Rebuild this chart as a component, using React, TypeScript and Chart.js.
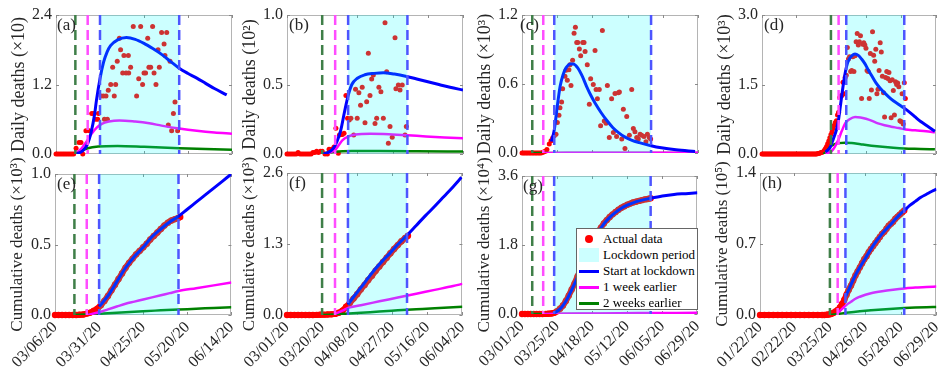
import React, { useEffect, useRef } from "react";
import { Chart, registerables } from "chart.js";

Chart.register(...registerables);

type Pt = [number, number];

const FONT = "'Liberation Serif', 'Times New Roman', serif";
const INK = "#262626";

// ---------- tick values / labels ----------
const ticksA = [0, 25, 50, 75, 100];
const labelsA = ["03/06/20", "03/31/20", "04/25/20", "05/20/20", "06/14/20"];
const ticksB = [0, 19, 38, 57, 76, 95];
const labelsB = ["03/01/20", "03/20/20", "04/08/20", "04/27/20", "05/16/20", "06/04/20"];
const ticksC = [0, 24, 48, 72, 96, 120];
const labelsC = ["03/01/20", "03/25/20", "04/18/20", "05/12/20", "06/05/20", "06/29/20"];
const ticksD = [0, 31, 63, 95, 127, 159];
const labelsD = ["01/22/20", "02/22/20", "03/25/20", "04/26/20", "05/28/20", "06/29/20"];

const yTicksA = [0, 1.2, 2.4];
const yTicksB = [0, 0.5, 1.0];
const yTicksC = [0, 0.6, 1.2];
const yTicksD = [0, 1.5, 3.0];
const yTicksE = [0, 0.5, 1.0];
const yTicksF = [0, 1.3, 2.6];
const yTicksG = [0, 1.8, 3.6];
const yTicksH = [0, 0.7, 1.4];

// [2 weeks earlier, 1 week earlier, lockdown start, lockdown end] (day index)
const lockA = [11, 18, 25, 70];
const lockB = [19, 26, 33, 65];
const lockC = [7, 14.5, 22, 88];
const lockD = [63, 70, 77, 130];

// ---------- panel (a): daily, x10 ----------
const dailyA: Pt[] = [[0,0],[1,0],[2,0],[3,0],[4,0],[5,0],[6,0],[7,0],[8,0],[9,0],[10,0],[11.4,0.1],[13.1,0.2],[14.2,0.2],[15.2,0],[17,0.4],[18.9,0.4],[20.3,0.7],[21.4,0.7],[22.5,0.6],[23.7,0.6],[24.1,0.7],[25.6,1.0],[26.9,1.0],[27.5,0.6],[28.4,1.0],[29.2,0.6],[29.7,1.1],[31.1,1.2],[32.2,1.5],[33.1,1.0],[33.9,1.2],[34.8,1.6],[36,2.0],[36.7,1.8],[37.9,1.4],[38.6,1.7],[39.8,1.4],[41.1,1.7],[41.3,1.4],[42.4,1.5],[43.9,2.2],[45.8,1.0],[47,1.3],[48.1,2.2],[49.2,1.2],[50,1.4],[50.9,1.4],[52.1,2.0],[52.8,1.5],[53.8,1.5],[54.9,2.2],[55.7,1.4],[56.8,1.2],[58,1.8],[58.7,1.5],[60,2.1],[61.4,1.9],[61.9,1.7],[62.9,2.1],[63.8,0.5],[64.8,1.6],[65.7,0.4],[66.7,0.7],[67.6,0.9],[69.1,0.4]];
const blueA: Pt[] = [[11,0],[14,0.03],[16,0.08],[18,0.18],[20,0.38],[22,0.7],[23,0.93],[25,1.3],[27,1.58],[29,1.76],[31,1.87],[35,1.97],[40,2.01],[45,1.98],[50,1.91],[55,1.82],[60,1.72],[65,1.6],[70,1.48],[75,1.39],[80,1.31],[85,1.22],[90,1.13],[97,1.02]];
const magentaA: Pt[] = [[11,0],[14,0.08],[17,0.2],[20,0.34],[23,0.45],[26,0.52],[30,0.56],[36,0.58],[45,0.56],[53,0.53],[60,0.49],[70,0.44],[80,0.4],[90,0.37],[100,0.35]];
const greenA: Pt[] = [[11,0],[14,0.05],[18,0.1],[24,0.13],[35,0.14],[50,0.125],[70,0.1],[85,0.085],[100,0.075]];

// ---------- panel (b): daily, 10^2 ----------
const dailyB: Pt[] = [[0,0],[1,0],[2,0],[3,0],[4,0],[5,0],[6,0.01],[7,0],[8,0],[9,0],[10,0],[11,0],[12,0],[13,0],[14,0.01],[15,0.01],[16,0.02],[17,0.01],[18,0.02],[19,0.02],[20.5,0],[21.8,0],[22.7,0.035],[24.1,0.035],[25.4,0.05],[26.4,0.185],[27.7,0.005],[28.3,0.137],[29.1,0.14],[29.9,0.14],[30.8,0.15],[31.8,0.42],[32.7,0.257],[33.6,0.245],[34.5,0.257],[36,0.137],[37,0.465],[37.9,0.257],[38.8,0.44],[39.7,0.35],[40.6,0.48],[42.1,0.225],[43,0.376],[43.9,0.724],[44.8,0.42],[45.7,0.54],[46.6,0.568],[47.5,0.22],[48.4,0.257],[49.6,0.48],[50.7,0.448],[52,0.257],[52.9,0.945],[53.8,0.592],[54.7,0.077],[55.6,0.197],[56.8,0.12],[58.3,0.837],[58.8,0.47],[60.1,0.496],[61,0.46],[62.2,0.496],[63.7,0.137],[64.4,0.197]];
const blueB: Pt[] = [[19,0],[22,0.01],[25,0.04],[27,0.09],[29,0.17],[31,0.3],[33,0.42],[35,0.5],[38,0.545],[42,0.57],[47,0.58],[52,0.585],[58,0.575],[64,0.56],[70,0.54],[76,0.52],[82,0.5],[88,0.48],[95,0.46]];
const magentaB: Pt[] = [[19,0],[23,0.01],[26,0.03],[28,0.065],[30,0.1],[33,0.125],[37,0.14],[45,0.145],[55,0.142],[65,0.135],[75,0.126],[85,0.119],[95,0.113]];
const greenB: Pt[] = [[19,0],[22,0.01],[26,0.017],[35,0.021],[50,0.021],[70,0.02],[95,0.018]];

// ---------- panel (c): daily, x10^3 ----------
const dailyC: Pt[] = [[0,0],[1,0],[2,0],[3,0],[4,0],[5,0],[6,0],[7,0],[8,0],[9,0],[10,0],[11,0],[12,0],[13,0],[14,0.005],[15,0.01],[16,0.015],[17,0.03],[18.6,0.078],[19.8,0.106],[20.9,0.13],[22,0.15],[23.2,0.164],[24.1,0.265],[25.2,0.328],[25.9,0.394],[27,0.443],[27.7,0.558],[29.3,0.668],[30,0.72],[30.9,0.633],[32,0.725],[32.7,0.768],[33.4,0.587],[34.5,0.806],[35.5,1.042],[36.4,1.094],[37.3,0.961],[38,0.961],[39.1,0.904],[40,0.846],[41.4,0.961],[42.3,0.961],[43,0.883],[44.5,0.768],[45.9,0.423],[46.8,0.645],[48.6,0.596],[49.8,0.892],[50.5,0.553],[51.4,0.472],[52.7,0.553],[53.6,0.236],[54.8,1.065],[56.1,0.279],[57.3,0.259],[58.2,0.587],[59.5,0.135],[61.1,0.472],[62.3,0.178],[63.4,0.518],[64.5,0.144],[65.7,0.524],[66.4,0.53],[68,0.121],[69.1,0.38],[70.2,0.04],[71.4,0.317],[73.2,0.155],[74.8,0.553],[75.9,0.213],[77,0.184],[78.2,0.135],[79.3,0.121],[80.5,0.164],[81.6,0.155],[83.2,0.144],[84.5,0.098],[85.5,0.164],[86.8,0.135],[87.7,0.121]];
const blueC: Pt[] = [[20,0.1],[22,0.2],[24,0.4],[26,0.58],[28,0.68],[30,0.74],[33,0.775],[35,0.775],[38,0.74],[41,0.67],[44,0.58],[47,0.5],[50,0.43],[54,0.35],[58,0.28],[62,0.22],[66,0.175],[70,0.14],[75,0.11],[80,0.09],[88,0.063],[95,0.045],[105,0.028],[118,0.014]];
const magentaC: Pt[] = [[14.5,0],[30,0.002],[60,0.003],[90,0.003],[120,0.003]];
const greenC: Pt[] = [[7,0],[40,0],[80,0],[120,0]];

// ---------- panel (d): daily, x10^3 ----------
const dailyD: Pt[] = [[0,0],[1,0],[2,0],[3,0],[4,0],[5,0],[6,0],[7,0],[8,0],[9,0],[10,0],[11,0],[12,0],[13,0],[14,0],[15,0],[16,0],[17,0],[18,0],[19,0],[20,0],[21,0],[22,0],[23,0],[24,0],[25,0],[26,0],[27,0],[28,0],[29,0],[30,0],[31,0],[32,0],[33,0],[34,0],[35,0],[36,0],[37,0],[38,0],[39,0],[40,0],[41,0],[42,0],[43,0],[44,0],[45,0],[46,0],[47,0],[48,0],[49,0],[50,0],[51,0.01],[52,0.01],[53,0.02],[54,0.03],[55,0.04],[56,0.05],[57,0.08],[58,0.12],[59,0.16],[60,0.22],[61,0.28],[62,0.35],[63,0.42],[64,0.48],[65,0.55],[66,0.62],[67,0.68],[68,0.72],[69,0.84],[70,0.9],[71,1.22],[72,1.25],[73,1.26],[74,1.55],[75,1.3],[76,1.65],[77,1.7],[78,2.3],[79,2.05],[80,2.1],[81,1.78],[82,1.8],[83,2.1],[84,1.78],[85,2.12],[86,2.42],[87,2.6],[88,2.35],[89,2.42],[90,2.55],[91,1.2],[92,2.37],[93,2.4],[94,2.35],[95,2.28],[96,1.8],[97,1.78],[98,1.2],[99,2.17],[100,1.38],[101,2.64],[102,2.13],[103,2.0],[104,2.26],[105,1.3],[106,1.4],[107,1.8],[108,2.4],[109,2.2],[110,1.68],[111,1.32],[112,0.8],[113,1.65],[114,1.78],[115,1.63],[116,1.76],[117,1.58],[118,0.78],[119,1.6],[120,1.37],[121,0.84],[122,1.56],[123,1.5],[124,1.53],[125,1.45],[126,0.72],[127,0.7],[128,1.3],[129,0.65],[130,1.54],[131,1.2]];
const blueD: Pt[] = [[58,0.05],[60,0.08],[62,0.13],[64,0.25],[66,0.38],[68,0.52],[70,0.75],[72,1.1],[74,1.45],[76,1.75],[78,1.95],[80,2.06],[82,2.12],[85,2.16],[88,2.13],[91,2.05],[94,1.95],[97,1.82],[100,1.7],[104,1.54],[108,1.42],[112,1.32],[116,1.23],[120,1.15],[125,1.07],[130,0.99],[135,0.9],[140,0.8],[145,0.7],[150,0.62],[155,0.54],[158,0.49]];
const magentaD: Pt[] = [[58,0.01],[62,0.04],[65,0.1],[68,0.22],[70,0.32],[73,0.5],[76,0.66],[80,0.75],[85,0.8],[90,0.79],[95,0.76],[100,0.72],[106,0.66],[112,0.62],[118,0.59],[125,0.56],[131,0.53],[140,0.51],[150,0.49],[158,0.47]];
const greenD: Pt[] = [[56,0],[59,0.05],[62,0.15],[66,0.21],[70,0.235],[76,0.245],[82,0.235],[90,0.21],[100,0.18],[110,0.155],[120,0.135],[130,0.12],[145,0.11],[158,0.1]];

// ---------- panel (e): cumulative, x10^3 ----------
const cumE: Pt[] = [[0,0],[2,0],[4,0],[6,0],[8,0],[10,0],[12,0],[14,0.002],[16,0.004],[18,0.01],[20,0.017],[22,0.03],[24,0.045],[26,0.07],[28,0.1],[30,0.135],[32,0.175],[34,0.215],[36,0.255],[38,0.295],[40,0.335],[42,0.37],[44,0.4],[46,0.43],[48,0.455],[50,0.48],[52,0.505],[54,0.535],[56,0.56],[58,0.585],[60,0.61],[62,0.635],[64,0.655],[66,0.67],[68,0.68],[70,0.69],[71,0.695]];
const blueE: Pt[] = [[25,0.06],[30,0.135],[35,0.235],[40,0.335],[45,0.415],[50,0.48],[55,0.555],[60,0.61],[65,0.66],[70,0.7],[75,0.75],[80,0.8],[85,0.85],[90,0.9],[95,0.95],[100,1.0]];
const magentaE: Pt[] = [[18,0],[25,0.02],[30,0.04],[35,0.06],[40,0.08],[45,0.095],[50,0.11],[55,0.125],[60,0.14],[65,0.155],[70,0.17],[80,0.19],[90,0.21],[100,0.23]];
const greenE: Pt[] = [[11,0],[20,0.005],[30,0.012],[40,0.02],[50,0.027],[60,0.033],[70,0.039],[80,0.044],[90,0.05],[100,0.055]];

// ---------- panel (f): cumulative, x10^3 ----------
const cumF: Pt[] = [[0,0],[2,0],[4,0],[6,0],[8,0],[10,0],[12,0],[14,0],[16,0.002],[18,0.004],[20,0.006],[22,0.008],[24,0.012],[26,0.02],[28,0.04],[30,0.08],[32,0.15],[34,0.22],[36,0.3],[38,0.38],[40,0.47],[42,0.55],[44,0.64],[46,0.72],[48,0.81],[50,0.89],[52,0.97],[54,1.05],[56,1.13],[58,1.21],[60,1.28],[62,1.35],[64,1.41],[65.5,1.45]];
const blueF: Pt[] = [[33,0.19],[36,0.33],[40,0.5],[44,0.68],[48,0.85],[52,1.0],[56,1.14],[60,1.29],[65,1.46],[70,1.64],[75,1.82],[80,1.99],[85,2.17],[90,2.35],[94.5,2.52]];
const magentaF: Pt[] = [[26,0.02],[30,0.08],[33,0.13],[40,0.18],[50,0.25],[60,0.32],[70,0.39],[80,0.46],[90,0.53],[95,0.57]];
const greenF: Pt[] = [[19,0],[30,0.02],[40,0.04],[50,0.065],[60,0.085],[70,0.105],[80,0.125],[95,0.15]];

// ---------- panel (g): cumulative, x10^4 ----------
const cumG: Pt[] = [[0,0],[2,0],[4,0],[6,0],[8,0],[10,0],[12,0],[14,0],[16,0.002],[18,0.006],[20,0.012],[22,0.03],[24,0.07],[26,0.14],[28,0.22],[30,0.34],[32,0.48],[34,0.64],[36,0.8],[38,0.98],[40,1.16],[42,1.34],[44,1.52],[46,1.7],[48,1.86],[50,2.0],[52,2.13],[54,2.25],[56,2.36],[58,2.45],[60,2.53],[62,2.6],[64,2.66],[66,2.72],[68,2.77],[70,2.81],[72,2.85],[74,2.88],[76,2.91],[78,2.93],[80,2.95],[82,2.97],[84,2.99],[86,3.0],[88,3.02]];
const blueG: Pt[] = [[22,0.03],[24,0.07],[27,0.17],[30,0.33],[33,0.55],[36,0.79],[40,1.14],[44,1.5],[48,1.84],[52,2.12],[56,2.35],[60,2.52],[64,2.65],[68,2.76],[72,2.84],[76,2.9],[80,2.95],[88,3.02],[96,3.08],[104,3.12],[112,3.14],[120,3.16]];
const magentaG: Pt[] = [[14.5,0],[40,0.01],[80,0.025],[120,0.03]];
const greenG: Pt[] = [[7,0],[60,0.002],[120,0.004]];

// ---------- panel (h): cumulative, 10^5 ----------
const cumH: Pt[] = [[0,0],[4,0],[8,0],[12,0],[16,0],[20,0],[24,0],[28,0],[32,0],[36,0],[40,0],[44,0],[48,0],[52,0],[56,0],[58,0],[60,0.002],[62,0.005],[64,0.01],[66,0.02],[68,0.035],[70,0.05],[72,0.075],[74,0.11],[76,0.15],[78,0.2],[80,0.25],[82,0.29],[84,0.34],[86,0.39],[88,0.43],[90,0.47],[92,0.51],[94,0.55],[96,0.58],[98,0.62],[100,0.65],[102,0.68],[104,0.71],[106,0.74],[108,0.77],[110,0.8],[112,0.82],[114,0.85],[116,0.88],[118,0.9],[120,0.92],[122,0.95],[124,0.97],[126,0.99],[128,1.01],[130,1.03]];
const blueH: Pt[] = [[77,0.18],[80,0.25],[85,0.37],[90,0.47],[95,0.56],[100,0.65],[105,0.73],[110,0.8],[115,0.86],[120,0.92],[125,0.98],[130,1.03],[135,1.08],[140,1.12],[145,1.16],[150,1.19],[155,1.22],[159,1.24]];
const magentaH: Pt[] = [[70,0.02],[74,0.06],[78,0.1],[82,0.13],[86,0.16],[90,0.18],[95,0.2],[100,0.215],[110,0.235],[120,0.25],[130,0.262],[140,0.27],[150,0.277],[159,0.28]];
const greenH: Pt[] = [[63,0],[70,0.01],[80,0.025],[90,0.037],[100,0.047],[110,0.055],[120,0.062],[130,0.068],[140,0.073],[150,0.077],[159,0.08]];

const legendItems = ["Actual data", "Lockdown period", "Start at lockdown", "1 week earlier", "2 weeks earlier"];

interface PanelSpec {
  letter: string; L: number; T: number; R: number; B: number; bottomRow: boolean; letterDx: number;
  xMax: number; xTicks: number[]; xLabels: string[];
  yMax: number; yTicks: number[]; yTitle: string;
  lock: number[]; red: Pt[]; cumulative: boolean; blue: Pt[]; magenta: Pt[]; green: Pt[];
}

const panels: PanelSpec[] = [
  { letter: "(a)", L: 56, T: 15, R: 232, B: 154, bottomRow: false, letterDx: 1, xMax: 100, xTicks: ticksA, xLabels: labelsA, yMax: 2.4, yTicks: yTicksA, yTitle: "Daily deaths (×10)", lock: lockA, red: dailyA, cumulative: false, blue: blueA, magenta: magentaA, green: greenA },
  { letter: "(b)", L: 287, T: 15, R: 463, B: 154, bottomRow: false, letterDx: 2, xMax: 95, xTicks: ticksB, xLabels: labelsB, yMax: 1.0, yTicks: yTicksB, yTitle: "Daily deaths (10²)", lock: lockB, red: dailyB, cumulative: false, blue: blueB, magenta: magentaB, green: greenB },
  { letter: "(c)", L: 522, T: 15, R: 698, B: 153, bottomRow: false, letterDx: -2, xMax: 120, xTicks: ticksC, xLabels: labelsC, yMax: 1.2, yTicks: yTicksC, yTitle: "Daily deaths (×10³)", lock: lockC, red: dailyC, cumulative: false, blue: blueC, magenta: magentaC, green: greenC },
  { letter: "(d)", L: 762, T: 15, R: 936, B: 154, bottomRow: false, letterDx: 2, xMax: 159, xTicks: ticksD, xLabels: labelsD, yMax: 3.0, yTicks: yTicksD, yTitle: "Daily deaths (×10³)", lock: lockD, red: dailyD, cumulative: false, blue: blueD, magenta: magentaD, green: greenD },
  { letter: "(e)", L: 55, T: 174, R: 232, B: 315, bottomRow: true, letterDx: 2, xMax: 100, xTicks: ticksA, xLabels: labelsA, yMax: 1.0, yTicks: yTicksE, yTitle: "Cumulative deaths (×10³)", lock: lockA, red: cumE, cumulative: true, blue: blueE, magenta: magentaE, green: greenE },
  { letter: "(f)", L: 287, T: 173, R: 463, B: 315, bottomRow: true, letterDx: 2, xMax: 95, xTicks: ticksB, xLabels: labelsB, yMax: 2.6, yTicks: yTicksF, yTitle: "Cumulative deaths (×10³)", lock: lockB, red: cumF, cumulative: true, blue: blueF, magenta: magentaF, green: greenF },
  { letter: "(g)", L: 522, T: 176, R: 698, B: 314, bottomRow: true, letterDx: 1, xMax: 120, xTicks: ticksC, xLabels: labelsC, yMax: 3.6, yTicks: yTicksG, yTitle: "Cumulative deaths (×10⁴)", lock: lockC, red: cumG, cumulative: true, blue: blueG, magenta: magentaG, green: greenG },
  { letter: "(h)", L: 760, T: 173, R: 937, B: 315, bottomRow: true, letterDx: 2, xMax: 159, xTicks: ticksD, xLabels: labelsD, yMax: 1.4, yTicks: yTicksH, yTitle: "Cumulative deaths (10⁵)", lock: lockD, red: cumH, cumulative: true, blue: blueH, magenta: magentaH, green: greenH },
];

const YW = 46;
const RP = 16;

function geom(p: PanelSpec) {
  const TP = p.bottomRow ? 32 : 16;
  const XH = p.bottomRow ? 375 - p.B : 16;
  const w = p.R - p.L + YW + RP;
  const h = p.B - p.T + TP + XH;
  return { TP, XH, w, h };
}

function PanelChart({ p }: { p: PanelSpec }) {
  const ref = useRef<HTMLCanvasElement | null>(null);
  const { TP, XH, w, h } = geom(p);

  useEffect(() => {
    if (!ref.current) return;
    const mk = (pts: Pt[]) => pts.map(([x, y]) => ({ x, y }));
    const decor = {
      id: "decor" + p.letter,
      beforeDatasetsDraw(chart: any) {
        const { ctx, chartArea: a } = chart;
        const xs = chart.scales.x, ys = chart.scales.y;
        ctx.save();
        ctx.strokeStyle = "#b4b4b4";
        ctx.lineWidth = 1;
        ctx.strokeRect(Math.round(a.left) + 0.5, Math.round(a.top) + 0.5, Math.round(a.right - a.left) - 1, Math.round(a.bottom - a.top) - 1);
        ctx.strokeStyle = "#8a8a8a";
        ctx.beginPath();
        p.xTicks.forEach((v) => {
          const X = Math.round(xs.getPixelForValue(v)) + 0.5;
          ctx.moveTo(X, a.bottom); ctx.lineTo(X, a.bottom - 3);
          ctx.moveTo(X, a.top); ctx.lineTo(X, a.top + 3);
        });
        p.yTicks.forEach((v) => {
          const Y = Math.round(ys.getPixelForValue(v)) + 0.5;
          ctx.moveTo(a.left, Y); ctx.lineTo(a.left + 3, Y);
          ctx.moveTo(a.right, Y); ctx.lineTo(a.right - 3, Y);
        });
        ctx.stroke();
        ctx.restore();
      },
      afterDatasetsDraw(chart: any) {
        const { ctx, chartArea: a } = chart;
        const xs = chart.scales.x;
        const px = (v: number) => xs.getPixelForValue(v);
        const [g, m, s, e] = p.lock;
        ctx.save();
        ctx.fillStyle = "rgba(0,255,255,0.2)";
        ctx.fillRect(px(s), a.top, px(e) - px(s), a.bottom - a.top);
        ctx.lineWidth = 2.5;
        ctx.setLineDash([10, 5]);
        const lines: [number, string][] = [[g, "#3f7f48"], [m, "#ff4dff"], [s, "#4d55ff"], [e, "#4d55ff"]];
        lines.forEach(([v, c]) => {
          ctx.strokeStyle = c;
          ctx.beginPath();
          ctx.moveTo(px(v), a.top);
          ctx.lineTo(px(v), a.bottom);
          ctx.stroke();
        });
        ctx.restore();
      },
      afterDraw(chart: any) {
        const { ctx, chartArea: a } = chart;
        ctx.save();
        ctx.fillStyle = INK;
        ctx.font = `17px ${FONT}`;
        ctx.textBaseline = "top";
        ctx.textAlign = "left";
        ctx.fillText(p.letter, a.left + p.letterDx, a.top + 2);
        ctx.restore();
      },
    };

    const redDs: any = p.cumulative
      ? { label: "Actual data", data: mk(p.red), showLine: true, borderColor: "#ff0000", backgroundColor: "#ff0000", borderWidth: 6, pointRadius: 3.2, pointBorderWidth: 0, cubicInterpolationMode: "monotone", order: 3, clip: false }
      : { label: "Actual data", data: mk(p.red), showLine: false, backgroundColor: "#ff0000", borderColor: "#ff0000", pointRadius: 2.5, pointBorderWidth: 0, order: 3, clip: false };

    const chart = new Chart(ref.current, {
      type: "scatter",
      data: {
        datasets: [
          { label: "Start at lockdown", data: mk(p.blue), showLine: true, borderColor: "#0000ff", backgroundColor: "#0000ff", borderWidth: 3, pointRadius: 0, cubicInterpolationMode: "monotone", order: 0 } as any,
          { label: "1 week earlier", data: mk(p.magenta), showLine: true, borderColor: "#ff00ff", backgroundColor: "#ff00ff", borderWidth: 2.5, pointRadius: 0, cubicInterpolationMode: "monotone", order: 1 } as any,
          { label: "2 weeks earlier", data: mk(p.green), showLine: true, borderColor: "#008000", backgroundColor: "#008000", borderWidth: 2.5, pointRadius: 0, cubicInterpolationMode: "monotone", order: 2 } as any,
          redDs,
        ],
      },
      options: {
        animation: false,
        responsive: false,
        devicePixelRatio: 1,
        events: [],
        layout: { autoPadding: false, padding: { top: TP, right: RP, left: 0, bottom: p.bottomRow ? 0 : XH } },
        plugins: { legend: { display: false }, tooltip: { enabled: false } },
        scales: {
          x: {
            type: "linear",
            min: 0,
            max: p.xMax,
            display: p.bottomRow,
            grid: { display: false, drawTicks: false },
            border: { display: false },
            afterBuildTicks: (s: any) => { s.ticks = p.xTicks.map((v) => ({ value: v })); },
            afterFit: (s: any) => { s.height = p.bottomRow ? XH : 0; },
            ticks: {
              autoSkip: false,
              minRotation: 45,
              maxRotation: 45,
              padding: 3,
              color: INK,
              font: { family: FONT, size: 16 },
              callback: (_v: any, i: number) => p.xLabels[i],
            },
          },
          y: {
            type: "linear",
            min: 0,
            max: p.yMax,
            grid: { display: false, drawTicks: false },
            border: { display: false },
            afterBuildTicks: (s: any) => { s.ticks = p.yTicks.map((v) => ({ value: v })); },
            afterFit: (s: any) => { s.width = YW; },
            ticks: {
              padding: 4,
              color: INK,
              font: { family: FONT, size: 16 },
              callback: (v: any) => Number(v).toFixed(1),
            },
            title: {
              display: true,
              text: p.yTitle,
              color: INK,
              font: { family: FONT, size: p.bottomRow ? 17 : 18, lineHeight: 1 },
              padding: { top: 0, bottom: 0 },
            },
          },
        },
      } as any,
      plugins: [decor],
    });
    return () => chart.destroy();
  }, []);

  return (
    <canvas
      ref={ref}
      width={w}
      height={h}
      style={{ position: "absolute", left: p.L - YW, top: p.T - TP, width: w, height: h }}
    />
  );
}

function Legend() {
  const rowH = 16;
  const sym = (i: number) => {
    if (i === 0) return <div style={{ position: "absolute", left: 8, top: 4, width: 8, height: 8, borderRadius: 4, background: "#ff0000" }} />;
    if (i === 1) return <div style={{ position: "absolute", left: 2, top: 1, width: 20, height: 14, background: "#ccffff" }} />;
    const c = i === 2 ? "#0000ff" : i === 3 ? "#ff00ff" : "#008000";
    return <div style={{ position: "absolute", left: 2, top: 6.5, width: 20, height: 3, background: c }} />;
  };
  return (
    <div style={{ position: "absolute", left: 576, top: 228, width: 120, height: 80, border: "1px solid #666", background: "#fff", fontFamily: FONT, fontSize: 13, color: "#000" }}>
      {legendItems.map((t, i) => (
        <div key={t} style={{ position: "absolute", left: 0, top: 2 + i * rowH, width: 120, height: rowH }}>
          {sym(i)}
          <span style={{ position: "absolute", left: 26, top: 0, lineHeight: rowH + "px", whiteSpace: "nowrap" }}>{t}</span>
        </div>
      ))}
    </div>
  );
}

export default function App() {
  return (
    <div style={{ position: "absolute", left: 0, top: 0, width: 945, height: 375, background: "#fff", overflow: "hidden" }}>
      {panels.map((p) => (
        <PanelChart key={p.letter} p={p} />
      ))}
      <Legend />
    </div>
  );
}
